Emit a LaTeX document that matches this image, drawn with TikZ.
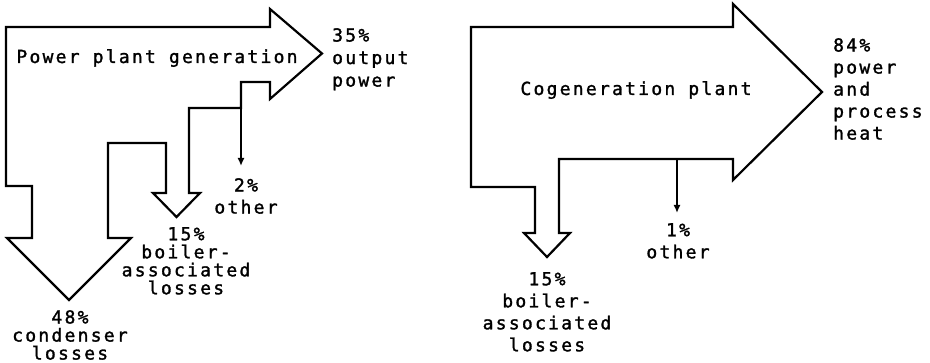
\documentclass[tikz,border=0pt]{standalone}
\usepackage{fontspec}
\newfontfamily\plotfont[LetterSpace=12.5,FakeBold=1.5]{DejaVu Sans Mono}
\usetikzlibrary{arrows.meta}

\begin{document}
\begin{tikzpicture}[x=1pt, y=-1pt,
  font=\plotfont\fontsize{18}{22}\selectfont,
  >={Latex[length=8pt,width=7pt]},
  flow/.style={draw=black, line width=2.2pt, line join=miter},
  tap/.style={->, draw=black, line width=2.2pt},
  title/.style={anchor=base, inner sep=0pt},
  lbl/.style={align=center, anchor=north, inner sep=0pt},
  side/.style={align=left, anchor=north west, inner sep=0pt},
  tight/.style={font=\plotfont\fontsize{18}{18}\selectfont}
]
\useasboundingbox (0,0) rectangle (930,363);

% power plant
\draw[flow] (6,27) -- (270,27) -- (270,9) -- (322,53.5) -- (270,99) -- (270,82)
  -- (241,82) -- (241,108) -- (189,108) -- (189,193) -- (200,193) -- (176.5,217)
  -- (153,193) -- (166,193) -- (166,143) -- (108,143) -- (108,238) -- (131,238)
  -- (69,300) -- (7,238) -- (32,238) -- (32,186) -- (6,186) -- cycle;
\coordinate (ppout) at (241,82);
\coordinate (pptip) at (241,166);
\draw[tap] (ppout) -- (pptip);

\node[title] (ppname) at (157,63) {Power plant generation};
\node[side] (ppnet) at (332,28) {35\%\\[0.5pt]output\\[0.5pt]power};
\node[lbl] (ppother) at (246,178) {2\%\\other};
\node[lbl, tight] (ppboil) at (186,227) {15\%\\boiler-\\associated\\losses};
\node[lbl, tight] (ppcond) at (70,310) {48\%\\condenser\\losses};

% cogeneration plant
\draw[flow] (471,27) -- (733,27) -- (733,4) -- (822,92) -- (733,180) -- (733,159)
  -- (559,159) -- (559,233) -- (570,233) -- (547,257) -- (524,233) -- (535,233)
  -- (535,187) -- (471,187) -- cycle;
\coordinate (cgout) at (677,159);
\coordinate (cgtip) at (677,213);
\draw[tap] (cgout) -- (cgtip);

\node[title] (cgname) at (636,95) {Cogeneration plant};
\node[side] (cgnet) at (833,38) {84\%\\power\\and\\process\\heat};
\node[lbl] (cgother) at (678,223) {1\%\\other};
\node[lbl] (cgboil) at (547,272) {15\%\\boiler-\\associated\\losses};
\end{tikzpicture}
\end{document}
